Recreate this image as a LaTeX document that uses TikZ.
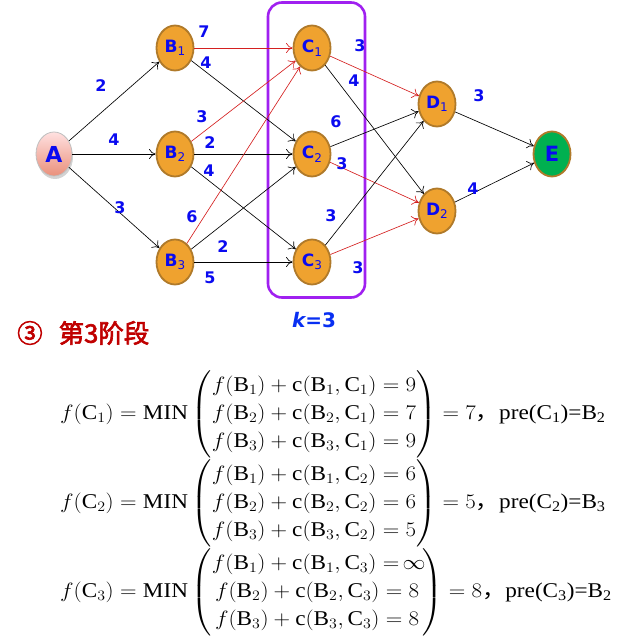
\documentclass[tikz,border=0pt]{standalone}
\usepackage{fontspec}
\usepackage{amsmath}
\usepackage{graphicx}
\setmainfont{Liberation Serif}
\newfontfamily\labelfont{DejaVu Sans}
\newfontfamily\cjk{Noto Sans CJK SC}[AutoFakeBold=2.5]
\usetikzlibrary{shapes.geometric,arrows.meta,shadows}
\definecolor{nodeorange}{HTML}{EFA22F}
\definecolor{nodeborder}{HTML}{B07A2A}
\definecolor{labelblue}{HTML}{0A0AF0}
\definecolor{arrowred}{HTML}{D42020}
\definecolor{boxpurple}{HTML}{A020F0}
\definecolor{egreen}{HTML}{00B050}
\definecolor{stagered}{HTML}{C00000}
\newcommand\sbs[1]{\raisebox{-3.5pt}{\fontsize{12}{12}\selectfont\mdseries #1}}
\newcommand\eqwide[1]{\scalebox{1.105}[1]{#1}}
\newcommand\narrowinf{\hbox to 0.72em{\hss$\infty$\hss}}
\tikzset{
  stnode/.style={ellipse, draw=nodeborder, line width=1.8pt, fill=nodeorange,
    minimum width=37pt, minimum height=45pt, inner sep=0pt, text=labelblue,
    font=\labelfont\bfseries\fontsize{17}{17}\selectfont},
  blk/.style={-{To[length=6.5pt,width=10pt]}, line width=0.65pt, draw=black},
  rd/.style={blk, draw=arrowred},
  wt/.style={text=labelblue, inner sep=0pt, font=\labelfont\bfseries\fontsize{16}{16}\selectfont},
  eqn/.style={anchor=west, inner sep=0pt, font=\fontsize{21}{28}\selectfont}
}
\begin{document}
\begin{tikzpicture}[x=1pt,y=-1pt]
\useasboundingbox (0,0) rectangle (622,644);
% stage box
\node[draw=boxpurple, line width=2.6pt, rounded corners=14pt, minimum width=97pt, minimum height=295pt, inner sep=0pt] (kbox) at (316.5,150) {};
\node[wt, font=\labelfont\bfseries\fontsize{20}{20}\selectfont, text=labelblue!85!cyan] (klabel) at (314,320) {\itshape k\upshape =3};
% nodes
\node[ellipse, draw=black!25, line width=0.8pt, top color=red!12, bottom color=red!45!brown!60, minimum width=36pt, minimum height=44pt, inner sep=0pt, text=labelblue, font=\labelfont\bfseries\fontsize{22}{22}\selectfont, drop shadow={opacity=0.35, shadow xshift=1pt, shadow yshift=-3pt}] (A) at (54,154) {A};
\node[stnode] (B1) at (175,48) {B\sbs{1}};
\node[stnode] (B2) at (175,154) {B\sbs{2}};
\node[stnode] (B3) at (175,262) {B\sbs{3}};
\node[stnode] (C1) at (312,48) {C\sbs{1}};
\node[stnode] (C2) at (312,154) {C\sbs{2}};
\node[stnode] (C3) at (312,262) {C\sbs{3}};
\node[stnode] (D1) at (437,104) {D\sbs{1}};
\node[stnode] (D2) at (437,211) {D\sbs{2}};
\node[stnode, fill=egreen, font=\labelfont\bfseries\fontsize{21}{21}\selectfont] (E) at (552,154) {E};
% edges
\draw[blk] (A) -- (B1);
\draw[blk] (A) -- (B2);
\draw[blk] (A) -- (B3);
\draw[rd] (B1) -- (C1);
\draw[blk] (B1) -- (C2);
\draw[rd] (B2) -- (C1);
\draw[blk] (B2) -- (C2);
\draw[blk] (B2) -- (C3);
\draw[rd] (B3) -- (C1);
\draw[blk] (B3) -- (C2);
\draw[blk] (B3) -- (C3);
\draw[rd] (C1) -- (D1);
\draw[blk] (C1) -- (D2);
\draw[blk] (C2) -- (D1);
\draw[rd] (C2) -- (D2);
\draw[blk] (C3) -- (D1);
\draw[rd] (C3) -- (D2);
\draw[blk] (D1) -- (E);
\draw[blk] (D2) -- (E);
% weights
\node[wt] (wAB1) at (101,86) {2};
\node[wt] (wAB2) at (114,140) {4};
\node[wt] (wAB3) at (120,208) {3};
\node[wt] (wB1C1) at (204,32) {7};
\node[wt] (wB1C2) at (206,63) {4};
\node[wt] (wB2C1) at (202,117) {3};
\node[wt] (wB2C2) at (210,143) {2};
\node[wt] (wB2C3) at (209,171) {4};
\node[wt] (wB3C1) at (192,217) {6};
\node[wt] (wB3C2) at (223,247) {2};
\node[wt] (wB3C3) at (210,278) {5};
\node[wt] (wC1D1) at (360,46) {3};
\node[wt] (wC1D2) at (354,81) {4};
\node[wt] (wC2D1) at (336,122) {6};
\node[wt] (wC2D2) at (342,164) {3};
\node[wt] (wC3D1) at (331,216) {3};
\node[wt] (wC3D2) at (358,268) {3};
\node[wt] (wD1E) at (479,96) {3};
\node[wt] (wD2E) at (473,189) {4};
% stage title
\node[anchor=west, inner sep=0pt, text=stagered, font=\cjk\bfseries\fontsize{25.5}{25.5}\selectfont] (stage) at (17,333) {③\hspace{16pt}第3阶段};
% equations
\node[eqn] (eq1) at (60,414) {\eqwide{$f(\mathrm{C}_1)=\mathrm{MIN}\begin{pmatrix}f(\mathrm{B}_1)+\mathrm{c}(\mathrm{B}_1,\mathrm{C}_1)=9\\ f(\mathrm{B}_2)+\mathrm{c}(\mathrm{B}_2,\mathrm{C}_1)=7\\ f(\mathrm{B}_3)+\mathrm{c}(\mathrm{B}_3,\mathrm{C}_1)=9\end{pmatrix}=7${\cjk，}pre(C\textsubscript{1})=B\textsubscript{2}}};
\node[eqn] (eq2) at (60,503) {\eqwide{$f(\mathrm{C}_2)=\mathrm{MIN}\begin{pmatrix}f(\mathrm{B}_1)+\mathrm{c}(\mathrm{B}_1,\mathrm{C}_2)=6\\ f(\mathrm{B}_2)+\mathrm{c}(\mathrm{B}_2,\mathrm{C}_2)=6\\ f(\mathrm{B}_3)+\mathrm{c}(\mathrm{B}_3,\mathrm{C}_2)=5\end{pmatrix}=5${\cjk，}pre(C\textsubscript{2})=B\textsubscript{3}}};
\node[eqn] (eq3) at (60,592) {\eqwide{$f(\mathrm{C}_3)=\mathrm{MIN}\begin{pmatrix}f(\mathrm{B}_1)+\mathrm{c}(\mathrm{B}_1,\mathrm{C}_3)=\narrowinf\\ f(\mathrm{B}_2)+\mathrm{c}(\mathrm{B}_2,\mathrm{C}_3)=8\\ f(\mathrm{B}_3)+\mathrm{c}(\mathrm{B}_3,\mathrm{C}_3)=8\end{pmatrix}=8${\cjk，}pre(C\textsubscript{3})=B\textsubscript{2}}};
\end{tikzpicture}
\end{document}
